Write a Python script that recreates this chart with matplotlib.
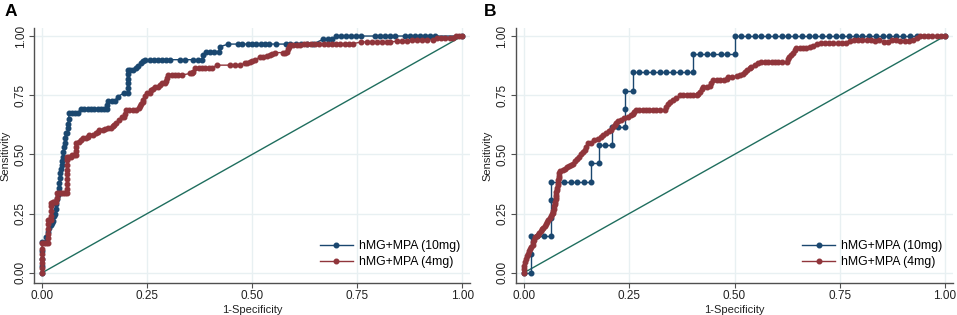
import matplotlib.pyplot as plt

plt.rcParams['font.family'] = ['Liberation Sans', 'DejaVu Sans']

labels = ['hMG+MPA (10mg)', 'hMG+MPA (4mg)']
ticks = [0.0, 0.25, 0.5, 0.75, 1.0]
tick_labels = ['0.00', '0.25', '0.50', '0.75', '1.00']

# panel A, 10mg
a_fpr_10 = [0, 0, 0, 0, 0, 0.008, 0.01, 0.013, 0.017, 0.02, 0.023, 0.025, 0.027, 0.03, 0.032,
            0.033, 0.035, 0.037, 0.039, 0.04, 0.041, 0.042, 0.043, 0.044, 0.046, 0.048, 0.049,
            0.05, 0.052, 0.053, 0.054, 0.056, 0.06, 0.061, 0.062, 0.063, 0.064, 0.07, 0.077,
            0.084, 0.092, 0.1, 0.108, 0.116, 0.124, 0.132, 0.14, 0.148, 0.154, 0.154, 0.156,
            0.165, 0.173, 0.18, 0.195, 0.203, 0.203, 0.203, 0.203, 0.203, 0.203, 0.21, 0.215,
            0.223, 0.227, 0.235, 0.239, 0.245, 0.256, 0.266, 0.275, 0.285, 0.294, 0.304, 0.328,
            0.34, 0.359, 0.371, 0.38, 0.383, 0.39, 0.4, 0.41, 0.42, 0.423, 0.443, 0.466, 0.476,
            0.49, 0.5, 0.51, 0.52, 0.53, 0.54, 0.556, 0.58, 0.59, 0.605, 0.617, 0.63, 0.645,
            0.668, 0.68, 0.69, 0.7, 0.712, 0.724, 0.736, 0.748, 0.76, 0.792, 0.804, 0.816,
            0.828, 0.84, 0.863, 0.875, 0.887, 0.899, 0.911, 0.923, 0.935, 1.0]
a_tpr_10 = [0, 0.03, 0.06, 0.09, 0.13, 0.13, 0.15, 0.17, 0.19, 0.2, 0.21, 0.22, 0.24, 0.25, 0.27,
            0.29, 0.31, 0.33, 0.34, 0.36, 0.38, 0.4, 0.42, 0.44, 0.455, 0.47, 0.49, 0.51, 0.53,
            0.55, 0.57, 0.59, 0.59, 0.61, 0.63, 0.65, 0.676, 0.676, 0.676, 0.676, 0.69, 0.69,
            0.69, 0.69, 0.69, 0.69, 0.69, 0.69, 0.69, 0.71, 0.727, 0.727, 0.727, 0.744, 0.76,
            0.76, 0.78, 0.8, 0.82, 0.84, 0.856, 0.856, 0.856, 0.863, 0.873, 0.885, 0.896, 0.9,
            0.9, 0.9, 0.9, 0.9, 0.9, 0.9, 0.9, 0.9, 0.9, 0.9, 0.9, 0.92, 0.934, 0.934, 0.934,
            0.934, 0.955, 0.966, 0.966, 0.966, 0.966, 0.966, 0.966, 0.966, 0.966, 0.966, 0.966,
            0.966, 0.966, 0.966, 0.966, 0.966, 0.966, 0.986, 0.986, 0.986, 1.0, 1.0, 1.0, 1.0,
            1.0, 1.0, 1.0, 1.0, 1.0, 1.0, 1.0, 1.0, 1.0, 1.0, 1.0, 1.0, 1.0, 1.0, 1.0]

# panel A, 4mg
a_fpr_4 = [0, 0, 0, 0, 0, 0, 0, 0.005, 0.009, 0.013, 0.013, 0.013, 0.013, 0.013, 0.013, 0.017,
           0.021, 0.021, 0.021, 0.021, 0.021, 0.025, 0.029, 0.033, 0.035, 0.035, 0.04, 0.045,
           0.05, 0.055, 0.06, 0.06, 0.06, 0.06, 0.06, 0.06, 0.06, 0.06, 0.06, 0.064, 0.068,
           0.072, 0.076, 0.08, 0.08, 0.08, 0.08, 0.088, 0.092, 0.096, 0.104, 0.108, 0.112, 0.12,
           0.128, 0.132, 0.136, 0.144, 0.15, 0.156, 0.164, 0.168, 0.172, 0.175, 0.183, 0.191,
           0.195, 0.197, 0.2, 0.207, 0.215, 0.223, 0.231, 0.233, 0.236, 0.239, 0.24, 0.244,
           0.249, 0.256, 0.26, 0.264, 0.268, 0.276, 0.28, 0.284, 0.293, 0.295, 0.298, 0.3,
           0.308, 0.316, 0.324, 0.332, 0.352, 0.356, 0.36, 0.364, 0.372, 0.38, 0.388, 0.396,
           0.403, 0.415, 0.448, 0.46, 0.471, 0.483, 0.487, 0.495, 0.5, 0.506, 0.518, 0.526,
           0.534, 0.542, 0.548, 0.554, 0.574, 0.578, 0.582, 0.584, 0.587, 0.59, 0.598, 0.606,
           0.614, 0.622, 0.63, 0.64, 0.65, 0.66, 0.67, 0.68, 0.69, 0.7, 0.71, 0.72, 0.73, 0.74,
           0.76, 0.772, 0.784, 0.796, 0.808, 0.82, 0.828, 0.844, 0.856, 0.868, 0.88, 0.892,
           0.904, 0.916, 0.93, 0.94, 0.95, 0.96, 0.97, 0.978, 0.985, 0.993, 1.0]
a_tpr_4 = [0, 0.02, 0.04, 0.06, 0.08, 0.1, 0.124, 0.124, 0.124, 0.124, 0.145, 0.165, 0.185, 0.205,
           0.223, 0.223, 0.223, 0.24, 0.26, 0.28, 0.294, 0.3, 0.3, 0.3, 0.315, 0.335, 0.335,
           0.335, 0.335, 0.335, 0.335, 0.355, 0.375, 0.395, 0.415, 0.435, 0.455, 0.475, 0.49,
           0.49, 0.49, 0.497, 0.497, 0.497, 0.515, 0.53, 0.548, 0.553, 0.56, 0.568, 0.57, 0.575,
           0.58, 0.58, 0.59, 0.596, 0.603, 0.603, 0.607, 0.611, 0.611, 0.62, 0.626, 0.632,
           0.645, 0.656, 0.66, 0.67, 0.687, 0.687, 0.687, 0.687, 0.695, 0.705, 0.712, 0.72,
           0.73, 0.745, 0.76, 0.76, 0.77, 0.778, 0.786, 0.786, 0.793, 0.8, 0.8, 0.812, 0.824,
           0.835, 0.835, 0.835, 0.835, 0.835, 0.842, 0.845, 0.849, 0.863, 0.863, 0.863, 0.863,
           0.863, 0.863, 0.877, 0.877, 0.877, 0.877, 0.885, 0.885, 0.89, 0.895, 0.9, 0.91,
           0.912, 0.915, 0.92, 0.925, 0.93, 0.93, 0.93, 0.934, 0.944, 0.953, 0.962, 0.962,
           0.962, 0.962, 0.965, 0.965, 0.965, 0.966, 0.966, 0.966, 0.966, 0.966, 0.966, 0.966,
           0.968, 0.968, 0.968, 0.975, 0.975, 0.975, 0.975, 0.975, 0.975, 0.975, 0.978, 0.98,
           0.98, 0.982, 0.982, 0.984, 0.984, 0.985, 0.99, 0.99, 0.99, 0.99, 0.99, 1.0, 1.0, 1.0]

# panel B, 10mg
b_fpr_10 = [0, 0.016, 0.016, 0.016, 0.032, 0.048, 0.064, 0.064, 0.064, 0.064, 0.095, 0.111,
            0.127, 0.143, 0.159, 0.159, 0.178, 0.178, 0.193, 0.21, 0.21, 0.223, 0.241, 0.241,
            0.241, 0.258, 0.258, 0.274, 0.29, 0.306, 0.322, 0.338, 0.354, 0.37, 0.386, 0.402,
            0.402, 0.418, 0.434, 0.45, 0.467, 0.483, 0.5, 0.5, 0.516, 0.532, 0.548, 0.564,
            0.58, 0.596, 0.612, 0.628, 0.644, 0.66, 0.676, 0.692, 0.708, 0.724, 0.74, 0.756,
            0.772, 0.788, 0.804, 0.82, 0.836, 0.852, 0.868, 0.884, 0.9, 0.916, 0.933, 1.0]
b_tpr_10 = [0, 0, 0.077, 0.154, 0.154, 0.154, 0.154, 0.231, 0.308, 0.385, 0.385, 0.385, 0.385,
            0.385, 0.385, 0.462, 0.462, 0.538, 0.538, 0.538, 0.615, 0.615, 0.615, 0.692,
            0.769, 0.769, 0.846, 0.846, 0.846, 0.846, 0.846, 0.846, 0.846, 0.846, 0.846,
            0.846, 0.923, 0.923, 0.923, 0.923, 0.923, 0.923, 0.923, 1.0, 1.0, 1.0, 1.0, 1.0,
            1.0, 1.0, 1.0, 1.0, 1.0, 1.0, 1.0, 1.0, 1.0, 1.0, 1.0, 1.0, 1.0, 1.0, 1.0, 1.0,
            1.0, 1.0, 1.0, 1.0, 1.0, 1.0, 1.0, 1.0]

# panel B, 4mg
b_fpr_4 = [0, 0, 0, 0.002, 0.004, 0.006, 0.009, 0.011, 0.014, 0.017, 0.021, 0.022, 0.024, 0.025,
           0.03, 0.033, 0.036, 0.04, 0.043, 0.046, 0.049, 0.052, 0.055, 0.058, 0.061, 0.063,
           0.066, 0.068, 0.07, 0.071, 0.072, 0.073, 0.074, 0.075, 0.076, 0.077, 0.077, 0.078,
           0.079, 0.08, 0.08, 0.081, 0.082, 0.083, 0.084, 0.086, 0.092, 0.097, 0.102, 0.107,
           0.112, 0.116, 0.12, 0.125, 0.13, 0.135, 0.14, 0.144, 0.148, 0.151, 0.159, 0.167,
           0.175, 0.183, 0.187, 0.195, 0.203, 0.207, 0.211, 0.215, 0.219, 0.223, 0.23, 0.238,
           0.246, 0.254, 0.258, 0.262, 0.266, 0.274, 0.282, 0.29, 0.298, 0.306, 0.314, 0.322,
           0.334, 0.338, 0.342, 0.346, 0.354, 0.362, 0.37, 0.378, 0.386, 0.394, 0.402, 0.41,
           0.414, 0.418, 0.422, 0.426, 0.434, 0.441, 0.445, 0.45, 0.458, 0.466, 0.474, 0.481,
           0.485, 0.495, 0.505, 0.513, 0.52, 0.525, 0.53, 0.536, 0.54, 0.548, 0.556, 0.564,
           0.572, 0.58, 0.588, 0.596, 0.604, 0.612, 0.624, 0.626, 0.63, 0.635, 0.64, 0.643,
           0.647, 0.655, 0.663, 0.671, 0.679, 0.687, 0.695, 0.705, 0.715, 0.725, 0.735, 0.745,
           0.755, 0.766, 0.774, 0.784, 0.794, 0.804, 0.814, 0.824, 0.834, 0.844, 0.854, 0.864,
           0.874, 0.884, 0.894, 0.904, 0.914, 0.924, 0.933, 0.94, 0.95, 0.96, 0.97, 0.98,
           0.99, 1.0]
b_tpr_4 = [0, 0.015, 0.03, 0.045, 0.06, 0.07, 0.08, 0.09, 0.1, 0.11, 0.117, 0.13, 0.14, 0.152,
           0.155, 0.16, 0.168, 0.175, 0.183, 0.19, 0.198, 0.206, 0.214, 0.222, 0.23, 0.238,
           0.246, 0.254, 0.262, 0.27, 0.28, 0.29, 0.3, 0.31, 0.32, 0.33, 0.34, 0.35, 0.36,
           0.37, 0.38, 0.39, 0.4, 0.41, 0.42, 0.43, 0.434, 0.44, 0.445, 0.45, 0.455, 0.46,
           0.47, 0.48, 0.49, 0.5, 0.51, 0.52, 0.53, 0.547, 0.55, 0.56, 0.565, 0.575, 0.58,
           0.59, 0.6, 0.605, 0.615, 0.625, 0.632, 0.64, 0.645, 0.652, 0.66, 0.665, 0.672,
           0.68, 0.687, 0.687, 0.687, 0.687, 0.687, 0.687, 0.687, 0.687, 0.687, 0.7, 0.712,
           0.72, 0.728, 0.737, 0.75, 0.75, 0.75, 0.75, 0.75, 0.75, 0.755, 0.765, 0.775, 0.786,
           0.786, 0.79, 0.8, 0.814, 0.814, 0.814, 0.814, 0.818, 0.828, 0.828, 0.83, 0.835,
           0.84, 0.85, 0.857, 0.863, 0.87, 0.878, 0.885, 0.89, 0.89, 0.89, 0.89, 0.89, 0.89,
           0.89, 0.892, 0.905, 0.913, 0.92, 0.927, 0.94, 0.95, 0.95, 0.95, 0.95, 0.952, 0.96,
           0.968, 0.969, 0.969, 0.969, 0.969, 0.969, 0.969, 0.972, 0.98, 0.982, 0.982, 0.982,
           0.982, 0.982, 0.98, 0.982, 0.976, 0.976, 0.982, 0.982, 0.978, 0.978, 0.978, 0.982,
           0.99, 1.0, 1.0, 1.0, 1.0, 1.0, 1.0, 1.0]

blue = '#1a476f'
red = '#90353b'
ref_color = '#1f6e5e'
grid_color = '#e8f0f2'
axis_color = '#505050'


def roc_panel(ax, fpr10, tpr10, fpr4, tpr4):
    ax.plot([0, 1], [0, 1], color=ref_color, lw=1.0, zorder=2)
    ax.plot(fpr10, tpr10, color=blue, lw=1.0, marker='o', ms=3.3,
            mec=blue, mfc=blue, label=labels[0], zorder=3)
    ax.plot(fpr4, tpr4, color=red, lw=1.0, marker='o', ms=3.3,
            mec=red, mfc=red, label=labels[1], zorder=4)
    ax.set_xlim(-0.019, 1.0183)
    ax.set_ylim(-0.0422, 1.0338)
    ax.set_xticks(ticks)
    ax.set_xticklabels(tick_labels)
    ax.set_yticks(ticks)
    ax.set_yticklabels(tick_labels, rotation=90, va='center')
    ax.grid(True, color=grid_color, lw=1.0)
    ax.set_axisbelow(True)
    for s in ['top', 'right']:
        ax.spines[s].set_visible(False)
    for s in ['left', 'bottom']:
        ax.spines[s].set_color(axis_color)
        ax.spines[s].set_linewidth(1.0)
    ax.tick_params(colors=axis_color, labelcolor='#222222', labelsize=8.5,
                   length=3.5, width=0.8, pad=2)
    ax.set_xlabel('1-Specificity', fontsize=8, labelpad=2, color='#222222')
    ax.set_ylabel('Sensitivity', fontsize=8, labelpad=3, color='#222222')
    ax.legend(loc='upper left', bbox_to_anchor=(0.655, 0.168), frameon=False,
              fontsize=8.8, handlelength=2.7, handletextpad=0.5, labelspacing=0.35,
              borderpad=0, borderaxespad=0)


fig = plt.figure(figsize=(9.57, 3.15), dpi=100)
ax_a = fig.add_axes([0.0358, 0.1025, 0.4553, 0.8085])
ax_b = fig.add_axes([0.5392, 0.1025, 0.4563, 0.8085])
roc_panel(ax_a, a_fpr_10, a_tpr_10, a_fpr_4, a_tpr_4)
roc_panel(ax_b, b_fpr_10, b_tpr_10, b_fpr_4, b_tpr_4)
fig.text(5 / 957, 1 - 4 / 315, 'A', fontsize=12.5, fontweight='bold', va='top', ha='left')
fig.text(484 / 957, 1 - 4 / 315, 'B', fontsize=12.5, fontweight='bold', va='top', ha='left')
fig.savefig('out.png', dpi=100)
